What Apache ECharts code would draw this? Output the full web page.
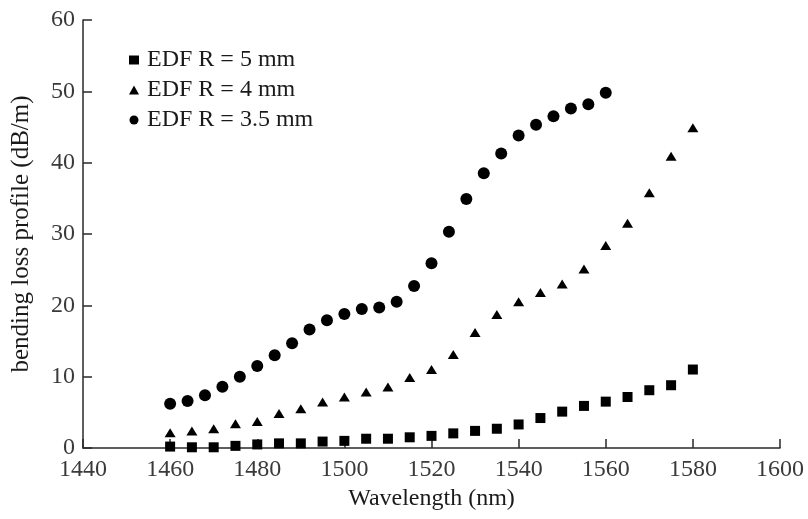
<!DOCTYPE html>
<html>
<head>
<meta charset="utf-8">
<script src="https://cdn.jsdelivr.net/npm/echarts@6/dist/echarts.min.js"></script>
<style>
html,body{margin:0;padding:0;background:#fff;}
#chart{width:808px;height:519px;}
</style>
</head>
<body>
<div id="chart"></div>
<script>
// Data
var seriesNames = ['EDF R = 5 mm', 'EDF R = 4 mm', 'EDF R = 3.5 mm'];

var wl5 = [1460,1465,1470,1475,1480,1485,1490,1495,1500,1505,1510,1515,1520,1525,1530,1535,1540,1545,1550,1555,1560,1565,1570,1575,1580];
var loss5 = [0.2,0.1,0.1,0.3,0.5,0.65,0.65,0.9,1.0,1.3,1.3,1.5,1.7,2.05,2.4,2.7,3.3,4.2,5.1,5.9,6.5,7.15,8.1,8.8,11.0];

var wl4 = [1460,1465,1470,1475,1480,1485,1490,1495,1500,1505,1510,1515,1520,1525,1530,1535,1540,1545,1550,1555,1560,1565,1570,1575,1580];
var loss4 = [2.15,2.4,2.7,3.4,3.7,4.85,5.5,6.45,7.15,7.85,8.55,9.9,11.0,13.1,16.2,18.7,20.5,21.8,23.0,25.1,28.4,31.5,35.8,40.9,44.9];

var wl35 = [1460,1464,1468,1472,1476,1480,1484,1488,1492,1496,1500,1504,1508,1512,1516,1520,1524,1528,1532,1536,1540,1544,1548,1552,1556,1560];
var loss35 = [6.2,6.6,7.4,8.6,10.0,11.5,13.0,14.7,16.6,17.9,18.8,19.5,19.7,20.5,22.7,25.9,30.3,34.9,38.5,41.3,43.8,45.3,46.5,47.6,48.2,49.8];

var xName = 'Wavelength (nm)';
var yName = 'bending loss profile (dB/m)';

function pairs(xs, ys){ return xs.map(function(x,i){ return [x, ys[i]]; }); }

var FONT = "'Liberation Serif', 'Times New Roman', serif";
var chart = echarts.init(document.getElementById('chart'), null, {renderer:'canvas'});
chart.setOption({
  backgroundColor: '#ffffff',
  animation: false,
  textStyle: {fontFamily: FONT},
  grid: {left: 83, right: 28, top: 20, bottom: 71, containLabel: false},
  legend: {
    orient: 'vertical',
    left: 124,
    top: 43,
    itemGap: 6,
    itemWidth: 10,
    itemHeight: 9,
    textStyle: {fontFamily: FONT, fontSize: 24, color: '#1a1a1a', padding:[0,0,0,3]},
    data: seriesNames
  },
  xAxis: {
    type: 'value',
    min: 1440, max: 1600, interval: 20,
    name: xName,
    nameLocation: 'middle',
    nameGap: 38,
    nameTextStyle: {fontFamily: FONT, fontSize: 24, color: '#1a1a1a'},
    axisLine: {show: true, lineStyle: {color: '#2a2a2a', width: 1.5}},
    axisTick: {show: true, inside: true, length: 9, lineStyle: {color: '#2a2a2a', width: 1.5}},
    axisLabel: {fontFamily: FONT, fontSize: 24, color: '#3a3a3a', margin: 10,
                formatter: function(v){ return String(v); }},
    splitLine: {show: false}
  },
  yAxis: {
    type: 'value',
    min: 0, max: 60, interval: 10,
    name: yName,
    nameLocation: 'middle',
    nameGap: 49,
    nameTextStyle: {fontFamily: FONT, fontSize: 25, color: '#1a1a1a'},
    axisLine: {show: true, lineStyle: {color: '#2a2a2a', width: 1.5}},
    axisTick: {show: true, inside: true, length: 9, lineStyle: {color: '#2a2a2a', width: 1.5}},
    axisLabel: {fontFamily: FONT, fontSize: 24, color: '#3a3a3a', margin: 8,
                formatter: function(v){ return String(v); }},
    splitLine: {show: false}
  },
  series: [
    {name: seriesNames[0], type: 'scatter', symbol: 'rect', symbolSize: 10,
     itemStyle: {color: '#000', opacity: 1}, data: pairs(wl5, loss5)},
    {name: seriesNames[1], type: 'scatter', symbol: 'triangle', symbolSize: [11, 9],
     itemStyle: {color: '#000', opacity: 1}, data: pairs(wl4, loss4)},
    {name: seriesNames[2], type: 'scatter', symbol: 'circle', symbolSize: 12,
     itemStyle: {color: '#000', opacity: 1}, data: pairs(wl35, loss35)}
  ]
});
</script>
</body>
</html>
